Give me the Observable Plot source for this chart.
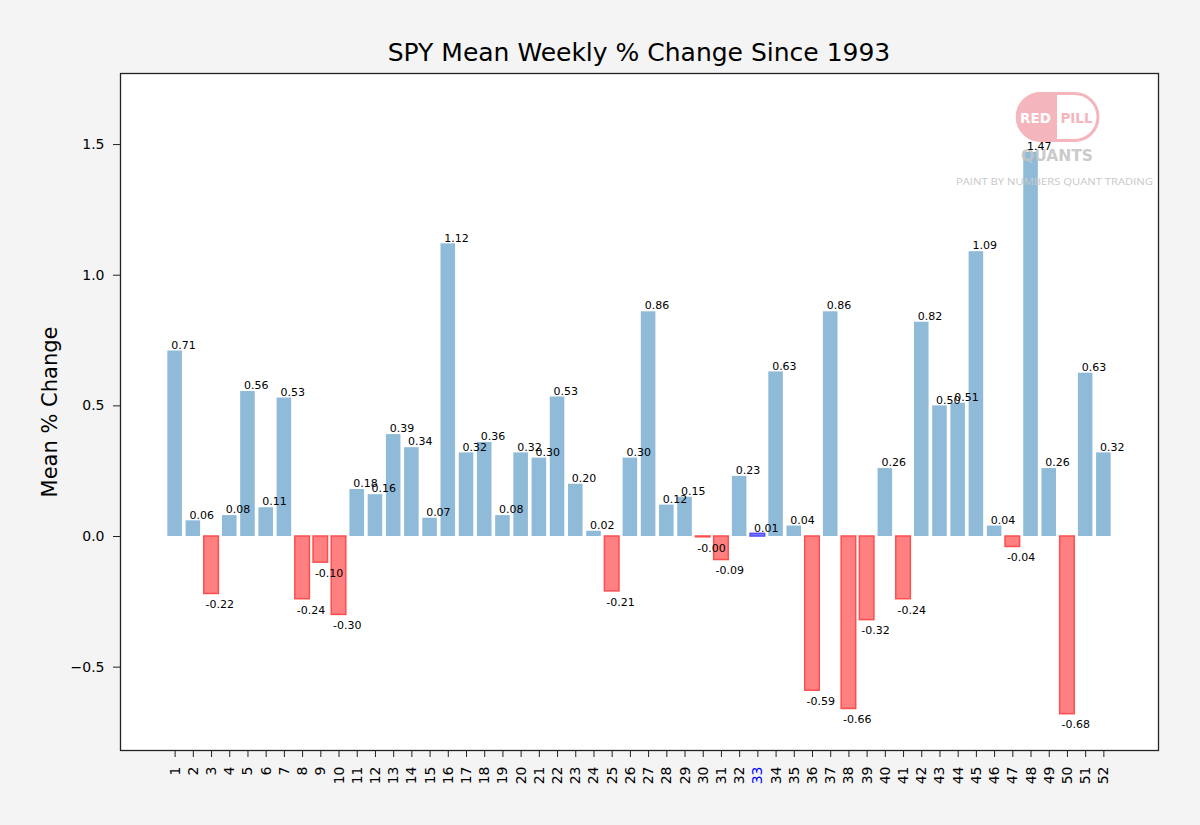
<!DOCTYPE html>
<html><head><meta charset="utf-8">
<script src="https://cdn.jsdelivr.net/npm/d3@7"></script>
<script src="https://cdn.jsdelivr.net/npm/@observablehq/plot@0.6"></script>
<style>
html,body{margin:0;padding:0;background:#f4f4f4;}
#wrap{position:relative;width:1200px;height:825px;}
#title{position:absolute;left:120px;width:1038px;top:37px;text-align:center;font-family:"DejaVu Sans";font-size:25px;color:#000;line-height:32px;white-space:nowrap}
</style></head><body>
<div id="wrap"><div id="title">SPY Mean Weekly % Change Since 1993</div></div>
<script>
// ---- data ----
const weeks = d3.range(1, 53);
const means = [
  0.71, 0.06, -0.22, 0.08, 0.555, 0.11, 0.53, -0.24, -0.10, -0.30,
  0.18, 0.16, 0.39, 0.34, 0.07, 1.12, 0.32, 0.36, 0.08, 0.32,
  0.30, 0.534, 0.20, 0.02, -0.21, 0.30, 0.86, 0.12, 0.15, -0.003,
  -0.09, 0.23, 0.01, 0.63, 0.04, -0.59, 0.86, -0.66, -0.32, 0.26,
  -0.24, 0.82, 0.50, 0.51, 1.09, 0.04, -0.04, 1.47, 0.26, -0.68,
  0.625, 0.32
];
const highlightWeek = 33;
const yTicks = [-0.5, 0, 0.5, 1.0, 1.5];
const yDomain = [-0.819, 1.772];

const data = weeks.map((w, i) => ({week: w, value: means[i]}));
const fillOf = d => d.week === highlightWeek ? "#8080ff" : d.value < 0 ? "#ff8080" : "#8fbbd9";
const strokeOf = d => d.week === highlightWeek ? "#4d4dff" : d.value < 0 ? "#ff4d4d" : "none";

const svg = Plot.plot({
  width: 1200,
  height: 825,
  marginLeft: 120,
  marginRight: 42,
  marginTop: 73,
  marginBottom: 75,
  style: {background: "#f4f4f4", fontFamily: "DejaVu Sans", color: "#000"},
  x: {type: "band", domain: weeks, paddingInner: 0.2, paddingOuter: 2.6, align: 0.5, round: false},
  y: {domain: yDomain},
  marks: [
    Plot.frame({fill: "white", stroke: null}),
    Plot.barY(data, {x: "week", y: "value", fill: fillOf, stroke: strokeOf, strokeWidth: 1.5}),
    Plot.text(data.filter(d => d.value >= 0), {
      x: "week", y: "value", text: d => d.value.toFixed(2),
      textAnchor: "middle", lineAnchor: "bottom", dx: 8.3, dy: -2.3, fontSize: 11, fill: "#000"
    }),
    Plot.text(data.filter(d => d.value < 0), {
      x: "week", y: "value", text: d => d.value.toFixed(2),
      textAnchor: "middle", lineAnchor: "top", dx: 8.3, dy: 6.5, fontSize: 11, fill: "#000"
    }),
    Plot.axisY({
      ticks: yTicks, tickFormat: d => d.toFixed(1).replace("-", "\u2212"),
      tickSize: 7, tickPadding: 9, fontSize: 14, label: null, stroke: "#222"
    }),
    Plot.axisX({tickRotate: -90, tickSize: 7, tickPadding: 9, fontSize: 14, label: null, stroke: "#222"}),
    Plot.text(["Mean % Change"], {frameAnchor: "left", textAnchor: "middle", dx: -70, rotate: -90, fontSize: 21, fill: "#000"}),
    Plot.frame({stroke: "#222", strokeWidth: 1.3})
  ]
});

// highlight tick label of week 33
d3.select(svg).selectAll("g[aria-label='x-axis tick label'] text")
  .filter(function() { return this.textContent === String(highlightWeek); })
  .attr("fill", "#0000ff");

// watermark logo
const logo = d3.select(svg).append("g").attr("class", "logo").attr("text-anchor", "start");
logo.append("rect").attr("x", 1017.5).attr("y", 93.5).attr("width", 80.5).attr("height", 47)
  .attr("rx", 23.5).attr("fill", "white").attr("stroke", "#f4b6bc").attr("stroke-width", 3);
logo.append("path").attr("d", "M1057,92 H1040.5 A24.5,24.5 0 0 0 1040.5,141.5 H1057 Z").attr("fill", "#f4b6bc");
logo.append("text").attr("x", 1035.5).attr("y", 122.5).attr("text-anchor", "middle")
  .attr("font-family", "DejaVu Sans").attr("font-weight", "bold").attr("font-size", 13.5)
  .attr("fill", "white").text("RED");
logo.append("text").attr("x", 1076.5).attr("y", 122.5).attr("text-anchor", "middle")
  .attr("font-family", "DejaVu Sans").attr("font-weight", "bold").attr("font-size", 13.5)
  .attr("fill", "#f4b6bc").text("PILL");
logo.append("text").attr("x", 1057).attr("y", 160.5).attr("text-anchor", "middle")
  .attr("font-family", "DejaVu Sans").attr("font-weight", "bold").attr("font-size", 15.5)
  .attr("fill", "#c4c4c4").attr("fill-opacity", 0.9).text("QUANTS");
logo.append("text").attr("x", 956).attr("y", 185).attr("text-anchor", "start")
  .attr("textLength", 197).attr("lengthAdjust", "spacingAndGlyphs")
  .attr("font-family", "Open Sans").attr("font-size", 9)
  .attr("fill", "#c8c8c8").text("PAINT BY NUMBERS QUANT TRADING");

// keep bar value labels above the logo
d3.select(svg).selectAll("g[aria-label='text']").each(function() { svg.appendChild(this); });

document.getElementById("wrap").insertBefore(svg, document.getElementById("title"));
svg.style.position = "absolute";
svg.style.left = "0px";
svg.style.top = "0px";
</script>
</body></html>
